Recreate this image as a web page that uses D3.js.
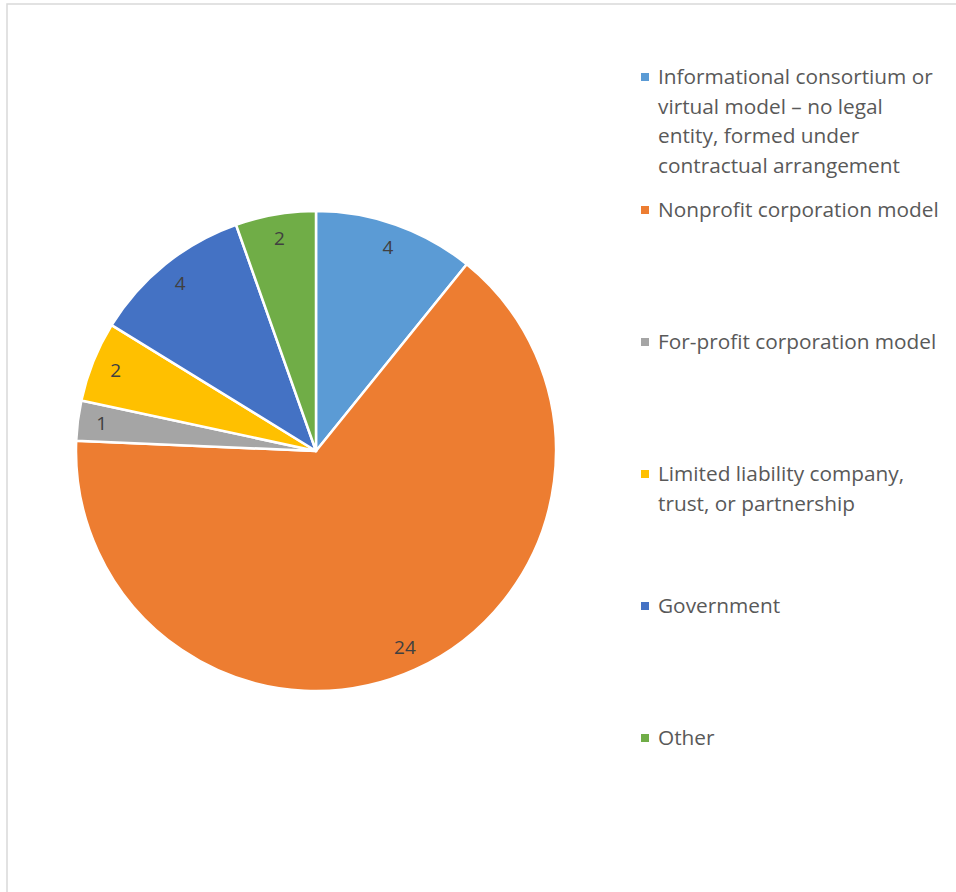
<!DOCTYPE html>
<html>
<head>
<meta charset="utf-8">
<script src="https://cdn.jsdelivr.net/npm/d3@7"></script>
<style>
  body { margin: 0; background: #fff; }
  svg { display: block; }
  text { font-family: "Open Sans", "Noto Sans", sans-serif; }
</style>
</head>
<body>
<svg id="chart" width="956" height="892"></svg>
<script>
// categories, in drawing order (clockwise from 12 o'clock)
var categories = [
	"Informational consortium or virtual model \u2013 no legal entity, formed under contractual arrangement",
	"Nonprofit corporation model",
	"For-profit corporation model",
	"Limited liability company, trust, or partnership",
	"Government",
	"Other"
];
var counts = [4, 24, 1, 2, 4, 2];
// legend lines as wrapped in the picture
var legendLines = [
	["Informational consortium or", "virtual model \u2013 no legal", "entity, formed under", "contractual arrangement"],
	["Nonprofit corporation model"],
	["For-profit corporation model"],
	["Limited liability company,", "trust, or partnership"],
	["Government"],
	["Other"]
];
var colors = ["#5B9BD5", "#ED7D31", "#A5A5A5", "#FFC000", "#4472C4", "#70AD47"];

var svg = d3.select("#chart");

// chart area border
svg.append("rect")
	.attr("x", 7).attr("y", 4)
	.attr("width", 960).attr("height", 900)
	.attr("fill", "none")
	.attr("stroke", "#d9d9d9")
	.attr("stroke-width", 1.5);

var cx = 316, cy = 451, radius = 240;

var data = categories.map(function(c, i){
	return { name: c, value: counts[i], color: colors[i], lines: legendLines[i] };
});

var pie = d3.pie().sort(null).value(function(d){ return d.value; });
var arc = d3.arc().innerRadius(0).outerRadius(radius);
var labelArc = d3.arc().innerRadius(216).outerRadius(216);

var g = svg.append("g").attr("transform", "translate(" + cx + "," + cy + ")");

var slices = g.selectAll(".slice")
	.data(pie(data))
	.enter().append("g")
	.attr("class", "slice");

slices.append("path")
	.attr("d", arc)
	.attr("fill", function(d){ return d.data.color; })
	.attr("stroke", "#fff")
	.attr("stroke-width", 2.5)
	.attr("stroke-linejoin", "round");

slices.append("text")
	.attr("transform", function(d){ return "translate(" + labelArc.centroid(d) + ")"; })
	.attr("text-anchor", "middle")
	.attr("dy", "0.35em")
	.attr("fill", "#404040")
	.style("font-size", "19px")
	.text(function(d){ return d.data.value; });

// legend
var legendY = [77, 210, 342, 474, 606, 738];
var lineH = 29.5;

var legend = svg.selectAll(".legend")
	.data(data)
	.enter().append("g")
	.attr("class", "legend")
	.attr("transform", function(d, i){ return "translate(641," + legendY[i] + ")"; });

legend.append("rect")
	.attr("x", 0).attr("y", -4)
	.attr("width", 8).attr("height", 8)
	.attr("fill", function(d){ return d.color; });

legend.append("text")
	.attr("x", 17)
	.attr("fill", "#595959")
	.style("font-size", "20.8px")
	.selectAll("tspan")
	.data(function(d){ return d.lines; })
	.enter().append("tspan")
	.attr("x", 17)
	.attr("y", function(d, i){ return i * lineH; })
	.attr("dy", "0.35em")
	.text(function(d){ return d; });
</script>
</body>
</html>
